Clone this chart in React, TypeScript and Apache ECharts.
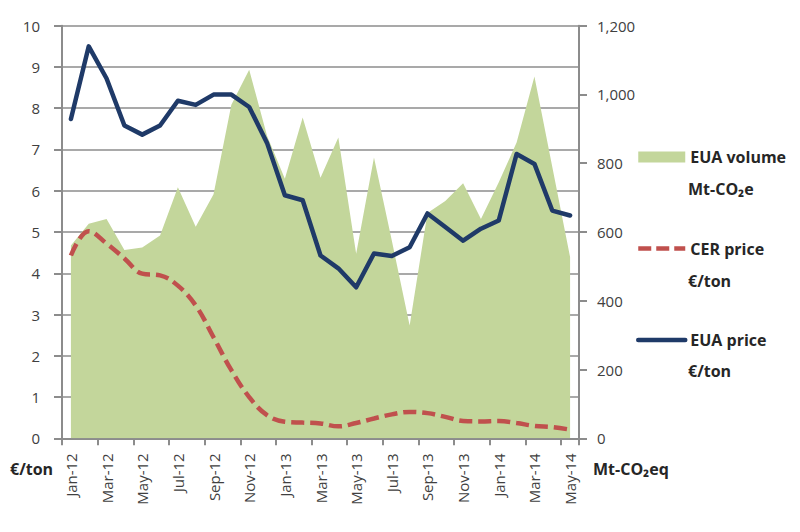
import React, { useEffect, useRef } from 'react';
import * as echarts from 'echarts';

const months = [
  'Jan-12', 'Feb-12', 'Mar-12', 'Apr-12', 'May-12', 'Jun-12', 'Jul-12', 'Aug-12', 'Sep-12', 'Oct-12', 'Nov-12', 'Dec-12',
  'Jan-13', 'Feb-13', 'Mar-13', 'Apr-13', 'May-13', 'Jun-13', 'Jul-13', 'Aug-13', 'Sep-13', 'Oct-13', 'Nov-13', 'Dec-13',
  'Jan-14', 'Feb-14', 'Mar-14', 'Apr-14', 'May-14',
];

// Mt-CO2eq (right axis)
const euaVolume = [
  561, 624, 638, 548, 555, 590, 730, 615, 710, 970, 1072, 880,
  755, 933, 758, 875, 537, 817, 575, 328, 655, 690, 742, 638,
  745, 860, 1052, 790, 527,
];

// €/ton (left axis)
const cerPrice = [
  4.43, 5.02, 4.72, 4.36, 3.99, 3.95, 3.7, 3.22, 2.45, 1.65, 1.0, 0.56,
  0.4, 0.38, 0.36, 0.29, 0.37, 0.48, 0.58, 0.64, 0.61, 0.52, 0.42, 0.41,
  0.42, 0.37, 0.3, 0.27, 0.21,
];

const euaPrice = [
  7.74, 9.5, 8.72, 7.58, 7.36, 7.58, 8.18, 8.08, 8.33, 8.33, 8.03, 7.16,
  5.89, 5.77, 4.43, 4.12, 3.66, 4.48, 4.42, 4.63, 5.45, 5.12, 4.79, 5.08,
  5.28, 6.89, 6.65, 5.52, 5.4,
];

const leftAxisName = '€/ton';
const rightAxisName = 'Mt-CO₂eq';
const seriesNames = ['EUA volume', 'CER price', 'EUA price'];
const seriesUnits = ['Mt-CO₂e', '€/ton', '€/ton'];

const FONT = '"Open Sans", "DejaVu Sans", sans-serif';
const GREEN = '#c3d69b';
const RED = '#c0504d';
const NAVY = '#1f3a68';
const AXIS = '#8c8c8c';
const TEXT = '#404040';

export default function App() {
  const ref = useRef<HTMLDivElement>(null);

  useEffect(() => {
    if (!ref.current) return;
    const chart = echarts.init(ref.current, null, { renderer: 'svg' });
    const option: any = {
      animation: false,
      backgroundColor: '#ffffff',
      textStyle: { fontFamily: FONT },
      grid: { left: 62, right: 221, top: 25.7, bottom: 93.7, containLabel: false },
      legend: {
        orient: 'vertical',
        left: 636,
        top: 149,
        padding: 0,
        itemWidth: 47,
        itemHeight: 11,
        itemGap: 75.5,
        selectedMode: false,
        textStyle: { fontFamily: FONT, fontSize: 16, fontWeight: 'bold', color: '#262626' },
        data: [
          { name: seriesNames[0], icon: 'rect' },
          { name: seriesNames[1], itemStyle: { opacity: 0 }, lineStyle: { width: 4.5, type: [13, 5], color: RED } },
          { name: seriesNames[2], itemStyle: { opacity: 0 }, lineStyle: { width: 4.5, color: NAVY } },
        ],
      },
      xAxis: {
        type: 'category',
        data: months,
        boundaryGap: true,
        axisLine: { show: true, lineStyle: { color: AXIS, width: 2 } },
        axisTick: { show: true, interval: 1, length: 7, lineStyle: { color: AXIS, width: 2 } },
        axisLabel: { interval: 1, rotate: 90, margin: 15, fontSize: 15, color: TEXT, fontFamily: FONT },
        splitLine: { show: false },
      },
      yAxis: [
        {
          type: 'value',
          min: 0,
          max: 10,
          interval: 1,
          position: 'left',
          axisLine: { show: true, lineStyle: { color: AXIS, width: 2 } },
          axisTick: { show: true, length: 8, lineStyle: { color: AXIS, width: 2 } },
          axisLabel: { margin: 22, fontSize: 15, color: TEXT, fontFamily: FONT },
          splitLine: { show: true, lineStyle: { color: AXIS, width: 1.5 } },
        },
        {
          type: 'value',
          min: 0,
          max: 1200,
          interval: 200,
          position: 'right',
          axisLine: { show: true, lineStyle: { color: AXIS, width: 2 } },
          axisTick: { show: true, length: 8, lineStyle: { color: AXIS, width: 2 } },
          axisLabel: {
            margin: 18,
            fontSize: 15,
            color: TEXT,
            fontFamily: FONT,
            formatter: (v: number) => v.toLocaleString('en-US'),
          },
          splitLine: { show: false },
        },
      ],
      series: [
        {
          name: seriesNames[0],
          type: 'line',
          yAxisIndex: 1,
          data: euaVolume,
          color: GREEN,
          symbol: 'none',
          lineStyle: { width: 0, color: GREEN },
          areaStyle: { color: GREEN, opacity: 1 },
          z: 1,
        },
        {
          name: seriesNames[1],
          type: 'line',
          yAxisIndex: 0,
          data: cerPrice,
          color: RED,
          symbol: 'none',
          smooth: 0.4,
          lineStyle: { width: 4.5, color: RED, type: [13, 6] },
          z: 3,
        },
        {
          name: seriesNames[2],
          type: 'line',
          yAxisIndex: 0,
          data: euaPrice,
          color: NAVY,
          symbol: 'none',
          lineStyle: { width: 4.5, color: NAVY, join: 'round', cap: 'round' },
          z: 4,
        },
      ],
      graphic: [
        {
          type: 'text', left: 10, top: 461,
          style: { text: leftAxisName, fontFamily: FONT, fontSize: 16, fontWeight: 'bold', fill: '#262626' },
        },
        {
          type: 'text', left: 593, top: 461,
          style: { text: rightAxisName, fontFamily: FONT, fontSize: 16, fontWeight: 'bold', fill: '#262626' },
        },
        {
          type: 'text', left: 688, top: 181,
          style: { text: seriesUnits[0], fontFamily: FONT, fontSize: 16, fontWeight: 'bold', fill: '#262626' },
        },
        {
          type: 'text', left: 688, top: 273,
          style: { text: seriesUnits[1], fontFamily: FONT, fontSize: 16, fontWeight: 'bold', fill: '#262626' },
        },
        {
          type: 'text', left: 688, top: 363,
          style: { text: seriesUnits[2], fontFamily: FONT, fontSize: 16, fontWeight: 'bold', fill: '#262626' },
        },
      ],
    };
    chart.setOption(option);
    return () => chart.dispose();
  }, []);

  return (
    <div
      ref={ref}
      style={{ position: 'fixed', left: 0, top: 0, width: 800, height: 532, background: '#fff' }}
    />
  );
}
